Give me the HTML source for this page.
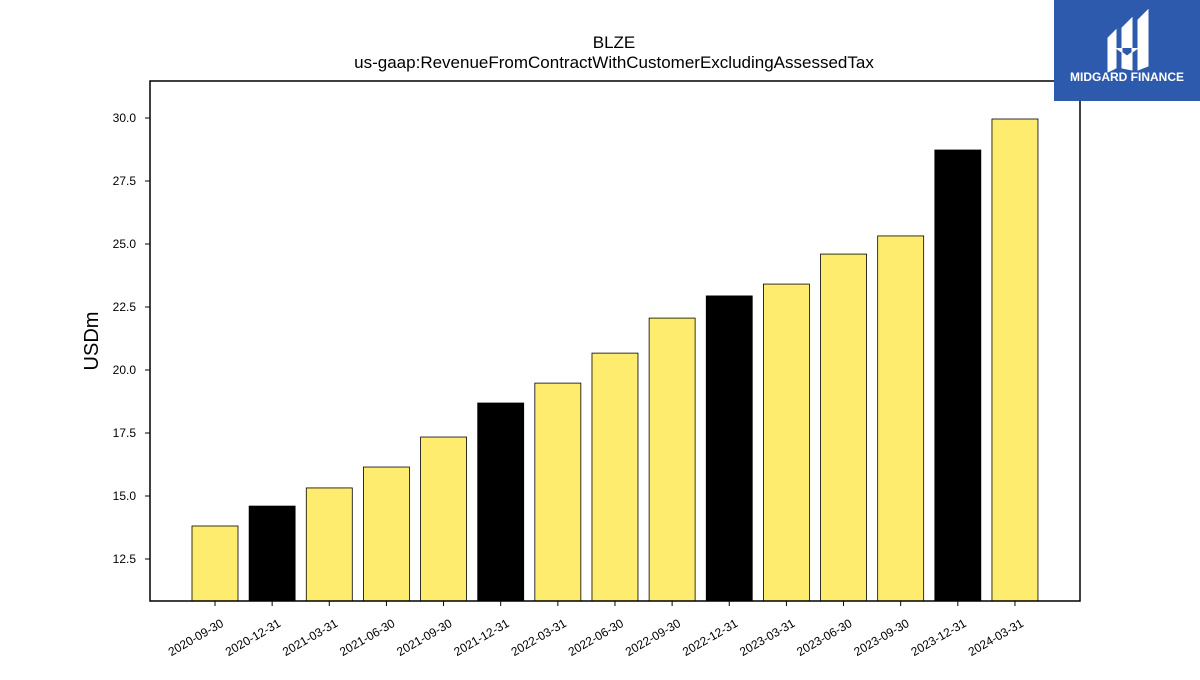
<!DOCTYPE html>
<html><head><meta charset="utf-8"><style>
body{margin:0;background:#fff;font-family:"Liberation Sans","DejaVu Sans",sans-serif}
</style></head><body>
<svg width="1200" height="675" xmlns="http://www.w3.org/2000/svg">
<text x="614" y="48" text-anchor="middle" font-size="17">BLZE</text>
<text x="614" y="68" text-anchor="middle" font-size="17">us-gaap:RevenueFromContractWithCustomerExcludingAssessedTax</text>
<text transform="translate(98,341) rotate(-90)" text-anchor="middle" font-size="20">USDm</text>
<g id="bars"></g><g id="yticks"></g><g id="xticks"></g>
<rect x="150" y="81" width="930" height="520" fill="none" stroke="#000" stroke-width="1.5"/>
<g>
<rect x="1054" y="0" width="146" height="101" fill="#2d5aac"/>
<path d="M1108 38 L1116 30 L1116 68 L1108 72 Z M1122 28 L1132 18 L1132 70 L1122 68 Z M1138 20 L1148 10 L1148 66 L1138 70 Z M1116 48 L1127 56 L1138 48" fill="#fff" stroke="#fff" stroke-width="1"/>
<text x="1127" y="81" text-anchor="middle" font-size="12" font-weight="bold" fill="#fff">MIDGARD FINANCE</text>
</g>
</svg>
<script>
const categories=["2020-09-30","2020-12-31","2021-03-31","2021-06-30","2021-09-30","2021-12-31","2022-03-31","2022-06-30","2022-09-30","2022-12-31","2023-03-31","2023-06-30","2023-09-30","2023-12-31","2024-03-31"];
const values=[13.81,14.60,15.32,16.15,17.34,18.69,19.48,20.67,22.06,22.94,23.41,24.60,25.32,28.73,29.96];
const isQ4=[false,true,false,false,false,true,false,false,false,true,false,false,false,true,false];
const yTicks=[12.5,15.0,17.5,20.0,22.5,25.0,27.5,30.0];
const NS="http://www.w3.org/2000/svg";
const y=v=>559-(v-12.5)*25.2;
const x=i=>215+i*57.14;
const bars=document.getElementById('bars'),yt=document.getElementById('yticks'),xt=document.getElementById('xticks');
values.forEach((v,i)=>{
 const r=document.createElementNS(NS,'rect');
 r.setAttribute('x',x(i)-23);r.setAttribute('width',46);
 r.setAttribute('y',y(v));r.setAttribute('height',601-y(v));
 r.setAttribute('fill',isQ4[i]?'#000':'#feec6f');r.setAttribute('stroke','#000');r.setAttribute('stroke-width','0.8');
 
 
 bars.appendChild(r);
 const t=document.createElementNS(NS,'line');
 t.setAttribute('x1',x(i));t.setAttribute('x2',x(i));t.setAttribute('y1',601);t.setAttribute('y2',606);t.setAttribute('stroke','#000');
 
 
 xt.appendChild(t);
 const l=document.createElementNS(NS,'text');
 l.setAttribute('transform',`translate(${x(i)+5},618) rotate(-30)`);l.setAttribute('text-anchor','end');l.setAttribute('font-size','12');l.setAttribute('dominant-baseline','hanging');
 l.textContent=categories[i];
 
 
 xt.appendChild(l);
});
yTicks.forEach(v=>{
 const t=document.createElementNS(NS,'line');
 t.setAttribute('x1',145);t.setAttribute('x2',150);t.setAttribute('y1',y(v));t.setAttribute('y2',y(v));t.setAttribute('stroke','#000');
 
 
 yt.appendChild(t);
 const l=document.createElementNS(NS,'text');
 l.setAttribute('x',136);l.setAttribute('y',y(v)+4);l.setAttribute('text-anchor','end');l.setAttribute('font-size','12');
 l.textContent=v.toFixed(1);
 
 
 yt.appendChild(l);
});
</script>
</body></html>
